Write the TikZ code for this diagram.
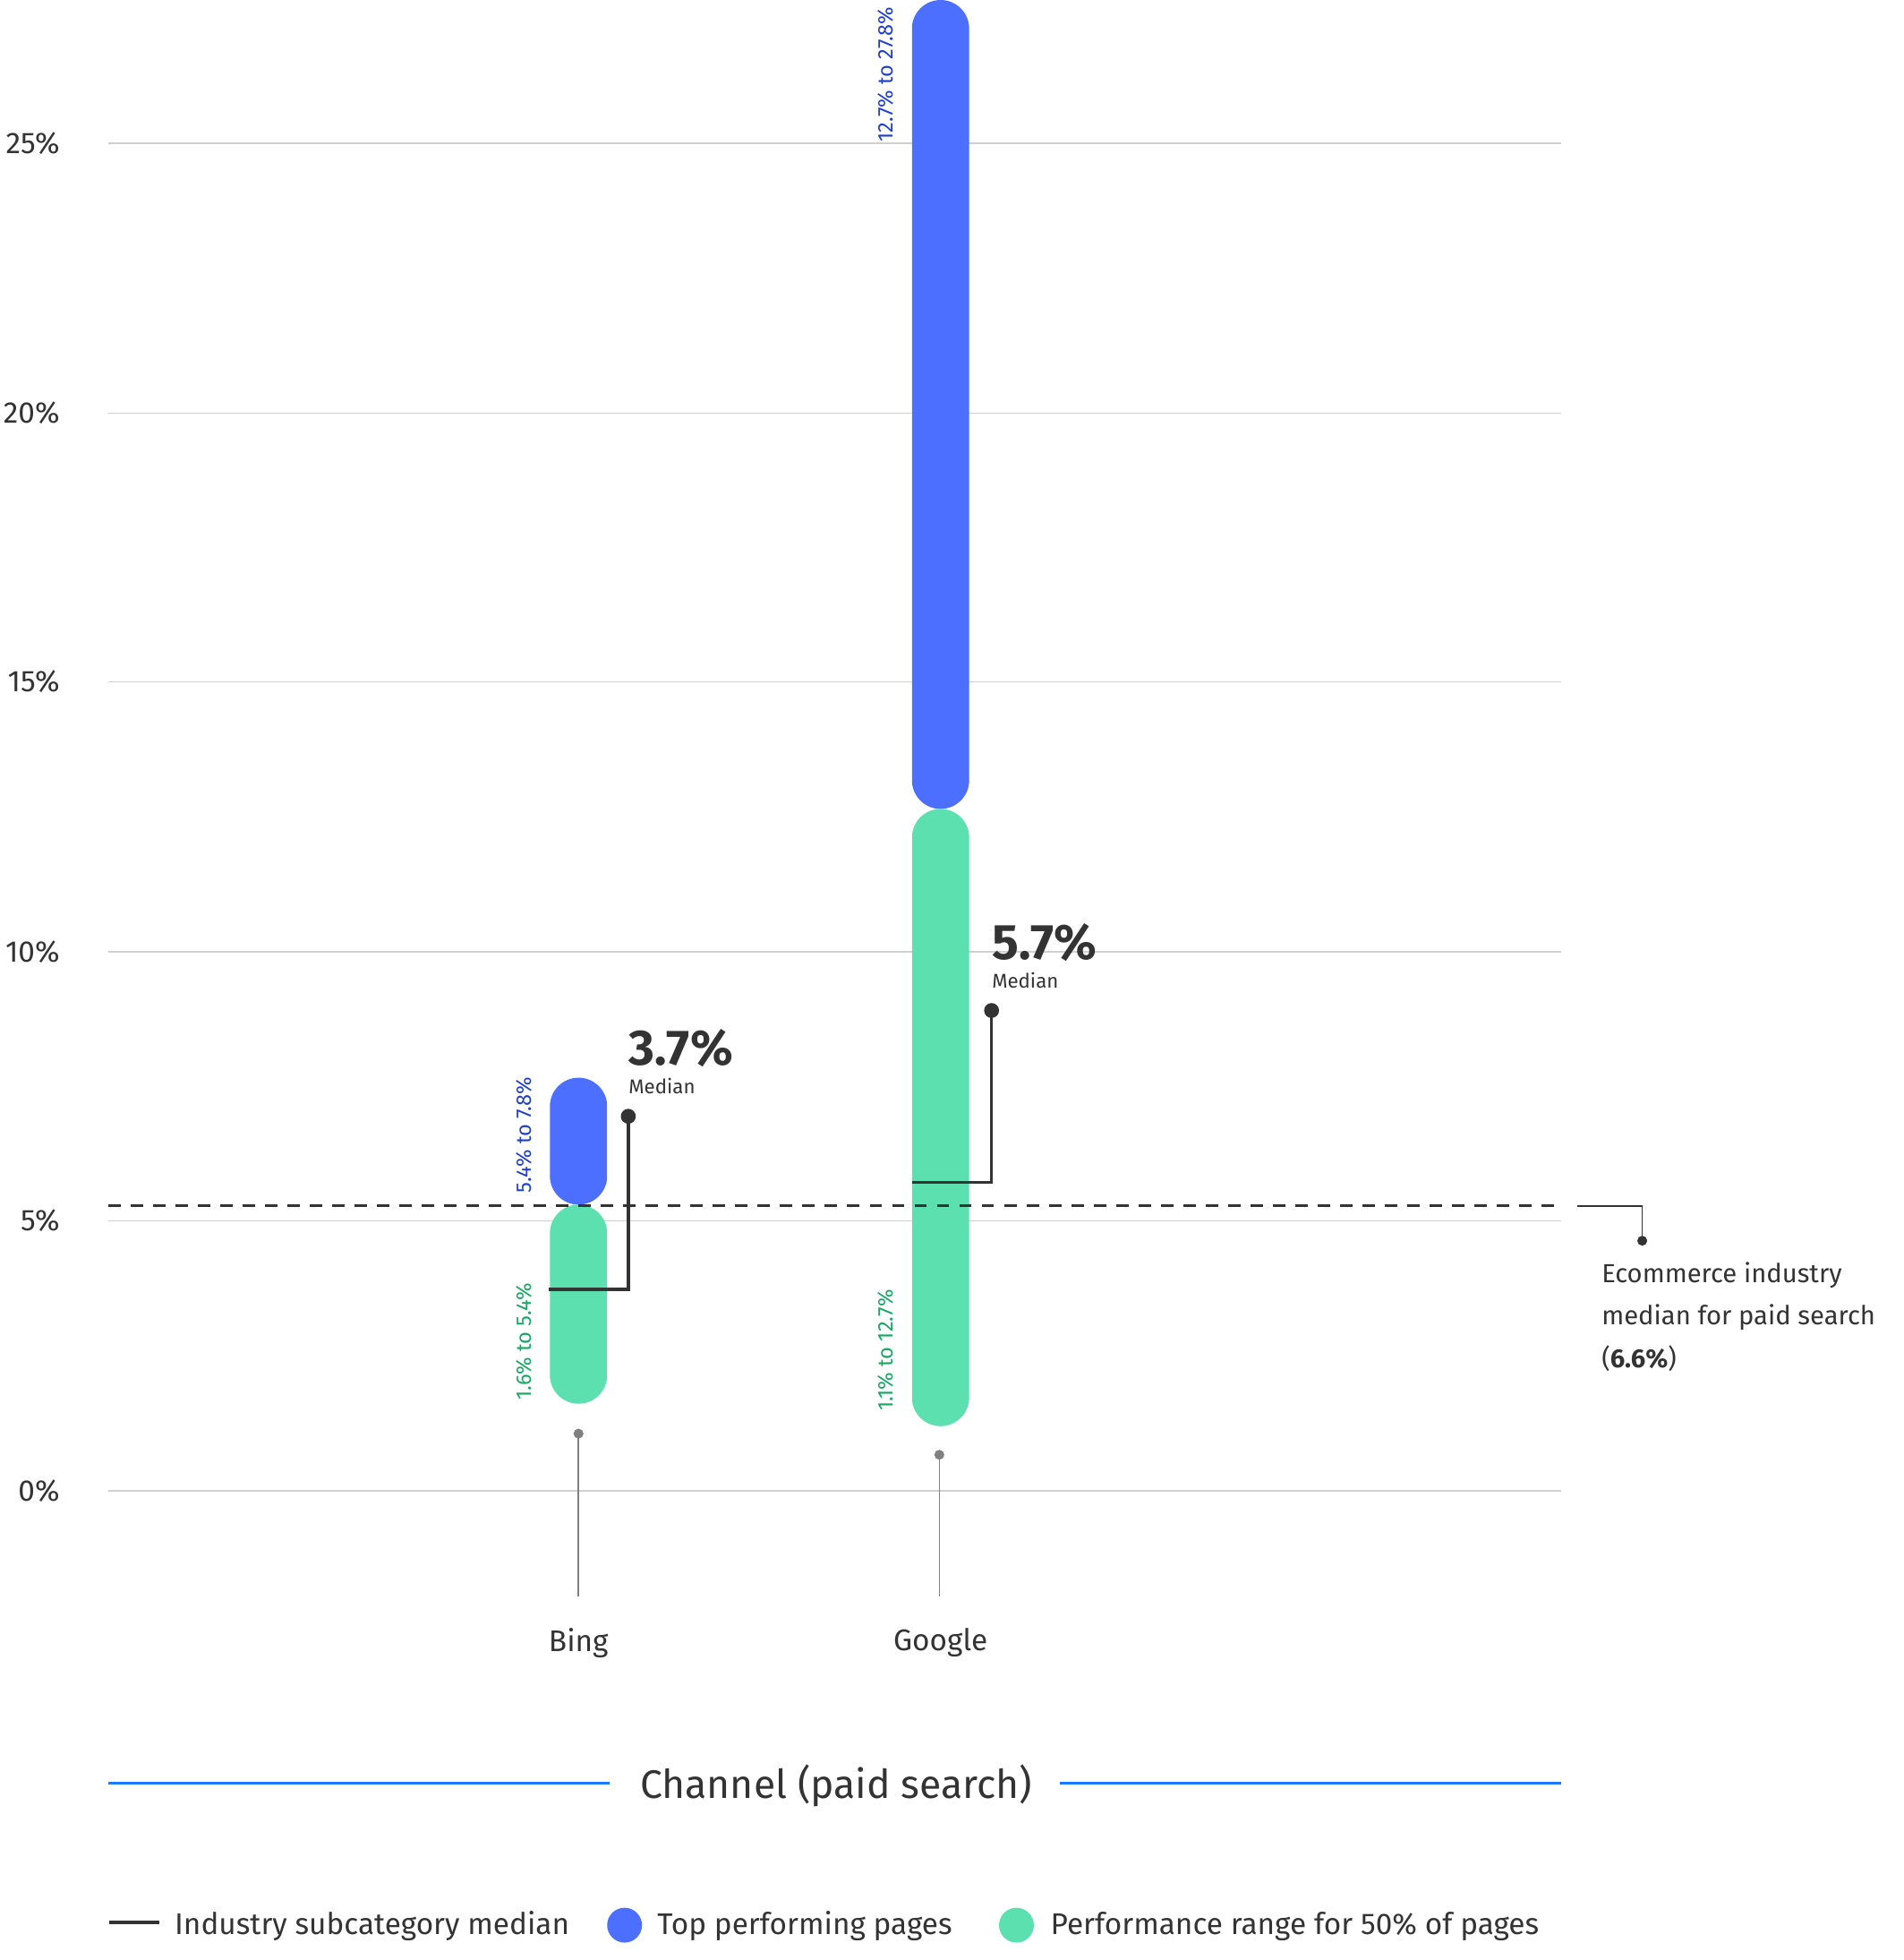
\documentclass[tikz,border=0pt]{standalone}
\usepackage{fontspec}
\setmainfont{Fira Sans}
\definecolor{topblue}{HTML}{4D6FFF}
\definecolor{rangegreen}{HTML}{5CE0AF}
\definecolor{dblue}{HTML}{1F3FD0}
\definecolor{dgreen}{HTML}{17A863}
\definecolor{axblue}{HTML}{1A7BFF}
\definecolor{grid}{HTML}{D0D0D0}
\definecolor{ink}{HTML}{333333}
\begin{document}
\begin{tikzpicture}[x=0.5pt,y=-0.5pt,
  ylab/.style={anchor=east,font=\fontsize{12}{14}\selectfont,text=ink},
  bar/.style={rounded corners=11.49pt},
  rng/.style={rotate=90,font=\fontsize{8.5}{10}\selectfont,inner sep=0pt},
  big/.style={anchor=south west,font=\bfseries\fontsize{20}{22}\selectfont,text=ink,inner sep=0pt},
  small/.style={anchor=north west,font=\fontsize{8}{10}\selectfont,text=ink,inner sep=0pt},
  med/.style={draw=ink,line width=1.2pt},
  whisk/.style={draw=gray,line width=0.6pt}]
\useasboundingbox (0,0) rectangle (1530,1575);
% grid
\foreach \y/\l in {115/25,332/20,548/15,765/10,981/5,1198/0}{
  \draw[grid,line width=0.6pt] (87,\y) -- (1255,\y);
  \node[ylab] (lab\l) at (55,\y) {\l\%};
}
% bars
\fill[topblue,bar] (442,866) rectangle (488,968);
\fill[rangegreen,bar] (442,968) rectangle (488,1128);
\fill[topblue,bar] (733,0) rectangle (779,650);
\fill[rangegreen,bar] (733,650) rectangle (779,1146);
% dashed industry median
\draw[ink,dashed,line width=1.2pt,dash pattern=on 5pt off 4pt] (87,969) -- (1255,969);
\coordinate (im) at (1320,997);
\draw[ink,line width=0.6pt] (1268,969) -| (im);
\fill[ink] (im) circle (2pt);
\node[anchor=north west,align=left,font=\fontsize{10.5}{17}\selectfont,text=ink,inner sep=0pt] (indtxt) at (1287,1014) {Ecommerce industry\\median for paid search\\(\textbf{6.6\%})};
% medians
\coordinate (bm) at (505,897);
\draw[med] (441,1036) -| (bm);
\fill[ink] (bm) circle (3pt);
\node[big] (bmv) at (505,858) {3.7\%};
\node[small] (bml) at (505,866) {Median};
\coordinate (gm) at (797,812);
\draw[med] (733,950) -| (gm);
\fill[ink] (gm) circle (3pt);
\node[big] (gmv) at (797,773) {5.7\%};
\node[small] (gml) at (797,781) {Median};
% range labels
\node[rng,text=dblue] (r1) at (421,912) {5.4\% to 7.8\%};
\node[rng,text=dgreen] (r2) at (421,1078) {1.6\% to 5.4\%};
\node[rng,text=dblue] (r3) at (712,60) {12.7\% to 27.8\%};
\node[rng,text=dgreen] (r4) at (712,1085) {1.1\% to 12.7\%};
% whiskers
\coordinate (bw) at (465,1152); \coordinate (bw2) at (465,1283);
\draw[whisk] (bw) -- (bw2); \fill[gray] (bw) circle (2pt);
\coordinate (gw) at (755,1169); \coordinate (gw2) at (755,1283);
\draw[whisk] (gw) -- (gw2); \fill[gray] (gw) circle (2pt);
\node[font=\fontsize{12}{14}\selectfont,text=ink] (bing) at (465,1320) {Bing};
\node[font=\fontsize{12}{14}\selectfont,text=ink] (google) at (756,1320) {Google};
% axis title
\draw[axblue,line width=1.2pt] (87,1433) -- (490,1433);
\draw[axblue,line width=1.2pt] (852,1433) -- (1255,1433);
\node[font=\fontsize{16}{18}\selectfont,text=ink] (axt) at (672,1435) {Channel (paid search)};
% legend
\draw[ink,line width=1.5pt] (88,1545) -- (128,1545);
\node[anchor=west,font=\fontsize{12}{14}\selectfont,text=ink,inner sep=0pt] (lg1) at (140,1548) {Industry subcategory median};
\fill[topblue] (502,1547) circle (7pt);
\node[anchor=west,font=\fontsize{12}{14}\selectfont,text=ink,inner sep=0pt] (lg2) at (528,1548) {Top performing pages};
\fill[rangegreen] (817,1547) circle (7pt);
\node[anchor=west,font=\fontsize{12}{14}\selectfont,text=ink,inner sep=0pt] (lg3) at (844,1548) {Performance range for 50\% of pages};
\end{tikzpicture}
\end{document}
